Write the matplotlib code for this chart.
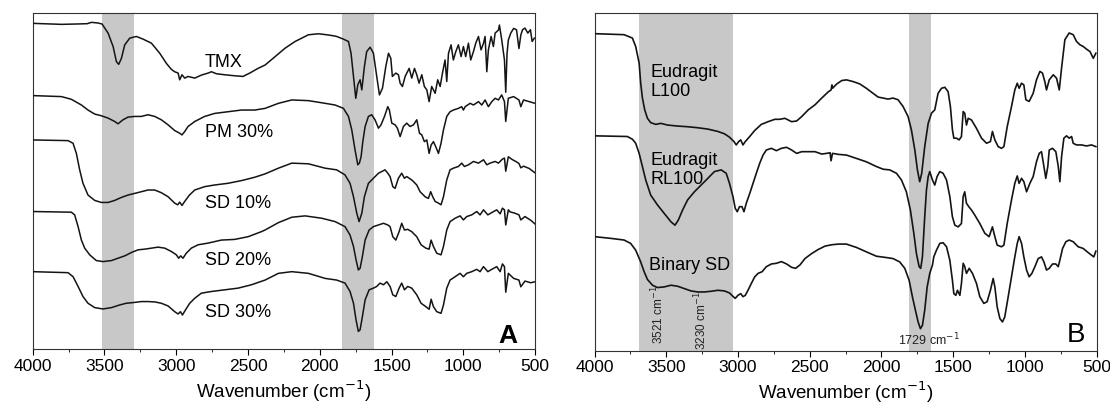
import matplotlib
matplotlib.use("Agg")
import matplotlib.pyplot as plt
from matplotlib.ticker import MultipleLocator

plt.rcParams['font.family'] = ['Liberation Sans', 'DejaVu Sans']

# ----------------------------- panel A data ----------------------------------
TMX_WN = [4000, 3800, 3700, 3620, 3591, 3545, 3517, 3475, 3440, 3417, 3401, 3382,
          3359, 3324, 3278, 3231, 3173, 3115, 3069, 3034, 3011, 2987, 2976, 2960,
          2941, 2918, 2871, 2825, 2778, 2755, 2720, 2662, 2593, 2535, 2488, 2430,
          2381, 2311, 2242, 2172, 2079, 2009, 1951, 1905, 1882, 1835, 1800, 1782,
          1765, 1749, 1735, 1719, 1707, 1689, 1673, 1649, 1626, 1603, 1584, 1563,
          1540, 1521, 1505, 1494, 1470, 1452, 1440, 1424, 1405, 1377, 1359, 1340,
          1324, 1308, 1289, 1271, 1254, 1238, 1220, 1196, 1178, 1161, 1145, 1127,
          1115, 1103, 1085, 1069, 1052, 1034, 1015, 999, 983, 964, 948, 929, 913,
          894, 876, 859, 848, 836, 825, 806, 790, 778, 755, 748, 732, 713, 704, 695,
          686, 669, 649, 629, 612, 599, 587, 570, 550, 532, 520, 505]
TMX_T = [97.0, 96.7, 96.8, 96.9, 97.3, 97.1, 96.8, 94.1, 90.1, 85.6, 84.8, 86.6,
         90.6, 92.6, 93.1, 92.3, 91.1, 88.1, 85.1, 83.3, 82.6, 82.2, 80.2, 81.7,
         80.7, 81.2, 80.7, 81.6, 82.2, 82.6, 82.0, 81.7, 81.4, 81.2, 82.2, 83.6,
         84.6, 87.1, 89.6, 91.6, 93.6, 93.9, 93.6, 93.3, 93.1, 92.3, 91.6, 88.1,
         81.2, 74.7, 78.7, 80.2, 77.2, 84.1, 88.6, 89.9, 88.1, 81.2, 75.7, 77.7,
         84.1, 88.1, 86.6, 81.2, 82.2, 81.7, 79.2, 78.2, 81.2, 83.6, 80.7, 83.6,
         81.7, 79.2, 81.7, 78.2, 77.2, 73.7, 78.2, 76.2, 80.2, 78.2, 82.2, 86.1,
         79.7, 88.1, 90.6, 86.1, 88.6, 90.6, 87.1, 90.1, 87.1, 91.1, 86.1, 88.6, 91.1,
         93.1, 89.1, 91.1, 93.1, 82.6, 89.1, 93.1, 90.1, 94.1, 95.0, 96.5, 92.1,
         86.1, 76.5, 88.0, 92.0, 94.1, 95.5, 95.1, 89.5, 93.5, 95.1, 95.6, 94.1,
         95.1, 91.6, 92.6]

PM30_WN = [4000, 3800, 3731, 3661, 3615, 3568, 3522, 3475, 3429, 3406, 3371, 3336,
           3289, 3243, 3197, 3150, 3104, 3057, 3011, 2976, 2960, 2941, 2918, 2871,
           2802, 2732, 2639, 2546, 2453, 2381, 2288, 2195, 2079, 1963, 1893, 1835,
           1800, 1777, 1754, 1735, 1724, 1712, 1700, 1684, 1661, 1638, 1615, 1591,
           1573, 1549, 1526, 1515, 1498, 1475, 1459, 1440, 1417, 1394, 1371, 1347,
           1324, 1305, 1289, 1271, 1254, 1238, 1224, 1208, 1192, 1173, 1155, 1138,
           1115, 1092, 1069, 1034, 1011, 999, 987, 952, 929, 894, 871, 848, 825, 801,
           778, 755, 732, 713, 704, 686, 649, 612, 599, 580, 540, 500]
PM30_T = [75.5, 75.2, 74.4, 72.7, 71.2, 70.0, 69.5, 68.8, 67.8, 67.1, 68.3, 69.1,
          69.3, 69.3, 69.8, 69.3, 68.3, 66.8, 65.1, 64.3, 63.8, 64.8, 66.3, 67.8,
          69.3, 70.2, 70.7, 71.2, 71.2, 71.7, 73.2, 74.2, 74.0, 73.2, 72.7, 71.7,
          69.3, 65.3, 59.3, 54.9, 55.4, 57.3, 61.8, 66.3, 69.3, 69.8, 68.3, 65.8,
          66.8, 69.3, 72.2, 71.2, 67.3, 66.8, 65.8, 63.3, 66.3, 67.3, 66.3, 66.8,
          68.3, 64.3, 63.8, 61.8, 62.3, 58.3, 60.8, 61.8, 60.3, 58.3, 61.3, 65.3,
          69.3, 70.7, 71.2, 71.7, 72.2, 71.2, 72.2, 73.2, 72.7, 73.7, 72.7, 74.2, 72.2,
          73.7, 74.7, 74.2, 75.7, 73.7, 67.8, 74.7, 75.2, 74.2, 72.2, 74.2, 73.7, 73.2]

SD10_WN = [4000, 3754, 3719, 3696, 3673, 3650, 3615, 3568, 3522, 3475, 3429, 3382,
           3336, 3289, 3243, 3197, 3150, 3104, 3057, 3011, 2990, 2976, 2960, 2941,
           2908, 2871, 2802, 2732, 2639, 2546, 2453, 2381, 2288, 2195, 2079, 1963,
           1882, 1824, 1789, 1765, 1742, 1726, 1707, 1689, 1661, 1626, 1591, 1568,
           1545, 1526, 1510, 1491, 1475, 1452, 1429, 1410, 1394, 1359, 1324, 1301,
           1266, 1243, 1227, 1213, 1196, 1173, 1155, 1138, 1115, 1092, 1069, 1034,
           1011, 992, 964, 929, 894, 859, 836, 813, 778, 755, 727, 713, 704, 686,
           660, 630, 612, 599, 580, 540, 500]
SD10_T = [62.3, 62.1, 61.3, 58.3, 53.4, 49.4, 45.9, 44.3, 43.7, 43.7, 44.3, 45.2,
          45.9, 46.4, 46.9, 47.4, 47.4, 46.6, 45.4, 43.5, 43.0, 43.8, 42.8, 44.0,
          45.9, 47.4, 48.4, 48.9, 49.4, 50.2, 51.2, 52.2, 53.9, 55.4, 55.2, 53.9,
          53.4, 51.9, 49.4, 45.4, 40.5, 38.0, 40.5, 45.4, 49.4, 50.9, 52.4, 52.9,
          53.4, 52.4, 51.4, 48.4, 47.9, 50.9, 52.4, 50.9, 51.4, 50.4, 48.9, 46.9,
          45.4, 44.9, 46.9, 45.4, 44.0, 43.5, 43.0, 45.4, 50.4, 53.4, 53.9, 54.4,
          55.4, 54.4, 54.9, 55.9, 55.4, 56.4, 54.9, 55.4, 55.9, 55.4, 56.6, 56.9,
          53.0, 57.3, 56.5, 55.8, 55.3, 54.0, 54.5, 53.8, 52.5]

SD20_WN = [4000, 3731, 3708, 3684, 3661, 3638, 3603, 3557, 3510, 3452, 3406, 3359,
           3313, 3266, 3220, 3173, 3127, 3080, 3034, 2999, 2983, 2969, 2953, 2930,
           2895, 2848, 2778, 2686, 2593, 2500, 2407, 2381, 2288, 2195, 2102, 1986,
           1893, 1824, 1789, 1765, 1747, 1731, 1719, 1703, 1684, 1656, 1626, 1591,
           1556, 1526, 1510, 1491, 1470, 1447, 1429, 1410, 1387, 1359, 1324, 1294,
           1261, 1238, 1224, 1208, 1185, 1155, 1138, 1115, 1092, 1057, 1022, 999,
           976, 941, 906, 883, 859, 829, 801, 767, 743, 727, 713, 704, 686, 674, 640,
           612, 599, 570, 530, 500]
SD20_T = [41.0, 40.8, 40.0, 36.5, 32.5, 30.1, 28.1, 26.4, 26.1, 26.4, 27.1, 27.8,
          28.8, 29.6, 29.8, 30.1, 30.4, 30.1, 29.1, 28.1, 27.1, 27.8, 27.1, 28.6,
          30.1, 31.1, 31.6, 32.5, 32.7, 33.5, 35.0, 35.5, 37.7, 39.3, 39.7, 39.0,
          38.0, 36.5, 34.0, 30.6, 26.6, 23.6, 24.1, 27.6, 32.5, 35.5, 36.5, 37.0,
          37.5, 37.0, 36.5, 33.5, 32.5, 35.0, 37.5, 35.5, 35.7, 35.0, 33.5, 31.1,
          30.1, 29.8, 32.5, 30.6, 28.6, 28.1, 30.6, 35.5, 38.0, 39.0, 39.7, 38.5,
          39.5, 40.0, 41.0, 40.0, 41.5, 40.0, 40.7, 41.5, 40.3, 42.0, 41.5, 37.0,
          41.5, 40.9, 40.5, 40.0, 38.5, 39.5, 38.4, 37.3]

SD30_WN = [4000, 3754, 3719, 3684, 3650, 3615, 3568, 3510, 3452, 3394, 3348, 3301,
           3243, 3197, 3150, 3104, 3057, 3011, 2987, 2971, 2957, 2936, 2906, 2871,
           2825, 2755, 2662, 2569, 2476, 2381, 2288, 2195, 2079, 1963, 1882, 1824,
           1789, 1765, 1747, 1731, 1719, 1703, 1684, 1656, 1626, 1603, 1580, 1556,
           1533, 1510, 1491, 1470, 1447, 1429, 1410, 1387, 1359, 1324, 1294, 1261,
           1238, 1224, 1208, 1185, 1155, 1138, 1115, 1092, 1057, 1022, 999, 976, 941,
           906, 883, 859, 829, 801, 767, 743, 727, 713, 704, 686, 649, 612, 599, 570,
           530, 500]
SD30_T = [23.1, 22.8, 21.6, 18.7, 15.7, 13.7, 12.4, 12.0, 12.4, 13.2, 13.7, 13.9,
          14.2, 14.2, 14.1, 13.7, 12.9, 11.2, 10.5, 11.2, 10.2, 11.7, 13.7, 15.2,
          16.7, 17.2, 17.7, 18.2, 19.2, 20.6, 22.6, 23.1, 22.6, 21.1, 20.6, 19.7,
          17.2, 13.7, 8.7, 5.3, 5.8, 9.7, 14.7, 17.7, 18.2, 18.7, 19.7, 19.2,
          20.1, 18.7, 16.2, 15.7, 18.2, 19.7, 17.7, 18.7, 18.2, 16.2, 13.7, 12.7,
          11.9, 14.9, 12.7, 11.2, 10.7, 13.2, 18.2, 20.6, 21.6, 22.6, 21.6, 22.6, 23.1,
          23.8, 23.1, 24.6, 23.1, 23.8, 24.6, 23.1, 25.4, 24.6, 17.0, 22.6, 21.1,
          20.6, 18.6, 20.3, 19.8, 20.1]

A_LABELS = ["TMX", "PM 30%", "SD 10%", "SD 20%", "SD 30%"]
A_LABEL_Y = [85.2, 64.4, 43.4, 26.4, 10.9]
A_BANDS = [(3296, 3518), (1620, 1845)]

# ----------------------------- panel B data ----------------------------------
L100_WN = [4000, 3794, 3736, 3713, 3689, 3678, 3666, 3650, 3631, 3608, 3573, 3537,
           3491, 3421, 3351, 3280, 3210, 3140, 3094, 3059, 3028, 3012, 2995, 2981,
           2965, 2949, 2918, 2883, 2837, 2790, 2743, 2708, 2673, 2626, 2591, 2556,
           2510, 2463, 2416, 2369, 2351, 2345, 2341, 2311, 2276, 2244, 2198, 2151,
           2105, 2058, 2023, 1988, 1954, 1919, 1884, 1849, 1814, 1791, 1767, 1749,
           1733, 1719, 1698, 1674, 1651, 1628, 1605, 1581, 1558, 1535, 1519, 1505,
           1495, 1477, 1458, 1442, 1430, 1419, 1407, 1395, 1372, 1337, 1302, 1267,
           1240, 1226, 1209, 1186, 1163, 1146, 1123, 1093, 1070, 1053, 1040, 1023,
           1007, 993, 970, 942, 919, 895, 877, 861, 849, 830, 802, 779, 760, 744, 721,
           691, 663, 640, 616, 593, 570, 546, 523, 505]
L100_T = [94.0, 93.7, 92.7, 90.2, 85.3, 79.3, 74.9, 71.4, 68.9, 67.6, 67.1, 67.4,
          66.9, 66.6, 66.4, 66.1, 65.7, 65.0, 64.3, 63.3, 62.0, 61.0, 62.0, 62.5,
          61.0, 62.0, 63.5, 65.3, 67.1, 67.9, 68.6, 68.6, 68.9, 67.9, 68.1, 69.4,
          71.4, 72.9, 74.9, 76.8, 77.3, 78.8, 77.8, 79.1, 80.1, 80.3, 79.8, 79.1,
          77.8, 76.3, 75.2, 74.9, 74.6, 74.9, 74.4, 72.4, 69.4, 65.5, 59.5, 53.6,
          50.1, 52.6, 60.5, 67.4, 70.4, 71.4, 76.3, 77.8, 78.1, 76.8, 72.4, 65.5,
          63.0, 63.0, 62.5, 63.5, 70.9, 70.4, 66.9, 68.9, 68.4, 65.9, 63.0, 61.5,
          62.0, 65.0, 62.5, 60.5, 60.0, 60.5, 66.4, 72.4, 77.3, 79.3, 77.8, 79.3,
          78.8, 74.4, 73.9, 76.3, 80.3, 82.8, 82.3, 79.8, 77.3, 80.3, 81.8, 80.8,
          77.3, 83.8, 92.2, 94.2, 93.7, 91.7, 90.7, 90.2, 89.4, 88.7, 86.7, 88.2]

RL100_WN = [4000, 3771, 3736, 3713, 3689, 3666, 3643, 3608, 3561, 3514, 3467, 3439,
            3416, 3386, 3351, 3304, 3257, 3210, 3164, 3117, 3082, 3059, 3035, 3019,
            3005, 2989, 2972, 2958, 2942, 2918, 2895, 2872, 2848, 2825, 2802, 2767,
            2732, 2697, 2661, 2626, 2591, 2556, 2510, 2463, 2416, 2381, 2358, 2351,
            2341, 2299, 2244, 2174, 2105, 2035, 1988, 1942, 1895, 1860, 1826, 1798,
            1774, 1756, 1737, 1726, 1714, 1698, 1686, 1674, 1663, 1644, 1628, 1612,
            1593, 1570, 1546, 1523, 1505, 1488, 1465, 1442, 1430, 1419, 1407, 1391,
            1372, 1349, 1314, 1279, 1249, 1226, 1209, 1193, 1163, 1146, 1123, 1093,
            1070, 1053, 1040, 1023, 1007, 988, 965, 942, 919, 900, 884, 867, 854, 840,
            830, 807, 784, 767, 756, 744, 728, 709, 691, 674, 663, 640, 605, 570, 535,
            505]
RL100_T = [63.7, 63.5, 62.7, 61.5, 58.5, 54.6, 50.6, 46.1, 43.2, 40.7, 38.2, 37.2,
           38.7, 41.7, 44.7, 47.1, 49.1, 51.1, 53.1, 53.6, 52.6, 49.6, 45.7, 42.2,
           41.2, 42.7, 42.7, 41.2, 43.7, 46.6, 49.6, 52.6, 55.6, 58.0, 59.5, 60.0,
           59.3, 60.0, 60.3, 59.5, 58.5, 59.0, 59.0, 59.0, 58.3, 58.5, 58.7, 56.3,
           58.5, 58.2, 58.0, 57.0, 56.0, 54.6, 53.8, 53.6, 52.6, 50.6, 47.1, 41.7,
           34.8, 28.8, 24.9, 24.4, 27.8, 39.7, 47.6, 51.6, 53.1, 50.6, 49.1, 51.6,
           53.1, 52.6, 50.6, 45.7, 39.7, 37.2, 36.7, 37.7, 45.7, 47.1, 43.7, 42.7,
           41.7, 40.2, 37.7, 34.8, 33.8, 36.7, 33.8, 31.3, 30.8, 31.3, 37.7, 44.7,
           49.6, 51.8, 49.6, 51.1, 50.1, 47.1, 49.6, 51.6, 56.0, 58.5, 59.0, 54.6,
           51.1, 54.6, 59.5, 60.0, 59.0, 54.6, 50.1, 57.5, 63.0, 63.7, 63.0, 63.5,
           61.5, 61.0, 61.0, 60.7, 61.0, 60.5]

BIN_WN = [4000, 3888, 3794, 3748, 3713, 3678, 3654, 3631, 3596, 3561, 3514, 3467,
          3421, 3374, 3327, 3280, 3234, 3187, 3140, 3094, 3059, 3035, 3019, 3000,
          2981, 2965, 2949, 2930, 2907, 2883, 2860, 2832, 2802, 2767, 2732, 2697,
          2661, 2626, 2598, 2568, 2533, 2486, 2440, 2393, 2346, 2299, 2244, 2174,
          2105, 2035, 1965, 1919, 1872, 1837, 1807, 1784, 1763, 1744, 1728, 1714,
          1698, 1681, 1663, 1644, 1635, 1616, 1593, 1570, 1546, 1523, 1505, 1495,
          1481, 1470, 1453, 1442, 1430, 1419, 1407, 1388, 1365, 1337, 1314, 1286,
          1263, 1240, 1221, 1209, 1193, 1174, 1156, 1140, 1116, 1093, 1070, 1053,
          1040, 1023, 1007, 988, 970, 951, 930, 907, 884, 867, 849, 830, 807, 784,
          767, 756, 737, 714, 691, 663, 628, 593, 565, 535, 519, 505]
BIN_T = [33.8, 33.3, 32.8, 31.8, 29.8, 26.3, 23.4, 21.1, 19.4, 18.7, 18.9, 19.4,
         19.1, 18.4, 17.7, 17.4, 17.4, 17.6, 17.9, 17.7, 17.1, 16.1, 15.5, 16.4,
         16.9, 16.0, 16.4, 17.9, 19.9, 21.9, 22.9, 23.4, 24.9, 25.7, 25.9, 26.4,
         25.7, 24.7, 24.4, 25.4, 27.3, 28.8, 30.0, 31.0, 31.4, 31.6, 31.6, 30.6,
         29.3, 28.0, 27.6, 27.3, 26.3, 24.4, 20.9, 16.0, 12.0, 8.5, 6.5, 7.5,
         12.0, 18.9, 22.9, 25.4, 27.8, 29.8, 31.8, 32.0, 30.8, 26.8, 20.9, 16.9,
         16.4, 17.9, 16.4, 19.9, 25.9, 24.9, 22.9, 24.4, 22.9, 19.9, 16.0, 14.0,
         14.5, 17.9, 21.4, 18.9, 13.0, 9.5, 8.5, 10.0, 16.0, 21.9, 27.8, 31.8,
         33.8, 31.8, 27.8, 23.9, 21.9, 22.9, 24.9, 27.3, 27.8, 26.3, 23.9, 24.4,
         25.7, 25.7, 24.9, 26.8, 30.3, 32.3, 32.8, 32.3, 30.8, 30.3, 29.3, 28.3,
         27.8, 29.5]

B_LABELS = ["Eudragit\nL100", "Eudragit\nRL100", "Binary SD"]
B_LABEL_Y = [79.6, 53.6, 25.1]
B_BANDS = [(3037, 3688), (1655, 1810)]
B_PEAKS = [3521, 3230, 1729]

BAND_GREY = "#c8c8c8"
INK = "#141414"


def style_axis(ax):
    ax.set_xlim(4000, 500)
    ax.set_ylim(0, 100)
    ax.set_yticks([])
    ax.xaxis.set_major_locator(MultipleLocator(500))
    ax.xaxis.set_minor_locator(MultipleLocator(250))
    ax.tick_params(axis="x", which="major", direction="out", length=4, width=0.8,
                   labelsize=12.5, pad=3)
    ax.tick_params(axis="x", which="minor", direction="out", length=2.5, width=0.6)
    for s in ax.spines.values():
        s.set_linewidth(0.8)
        s.set_color("#333333")
    ax.set_xlabel("Wavenumber (cm$^{-1}$)", fontsize=13.5, labelpad=3)


fig = plt.figure(figsize=(11.1, 4.07), dpi=100)
axA = fig.add_axes([0.0295, 0.1418, 0.4525, 0.8256])
axB = fig.add_axes([0.5356, 0.1385, 0.4523, 0.8285])

# ---- panel A
for lo, hi in A_BANDS:
    axA.axvspan(lo, hi, color=BAND_GREY, lw=0, zorder=0)
for wn, t in [(TMX_WN, TMX_T), (PM30_WN, PM30_T), (SD10_WN, SD10_T),
              (SD20_WN, SD20_T), (SD30_WN, SD30_T)]:
    axA.plot(wn, t, color=INK, lw=1.1, zorder=3)
for lab, y in zip(A_LABELS, A_LABEL_Y):
    axA.text(2800, y, lab, fontsize=13, ha="left", va="center", zorder=4)
axA.text(0.964, 0.018, "A", transform=axA.transAxes, fontsize=19,
         fontweight="bold", ha="right", va="baseline")
style_axis(axA)

# ---- panel B
for lo, hi in B_BANDS:
    axB.axvspan(lo, hi, color=BAND_GREY, lw=0, zorder=0)
for wn, t in [(L100_WN, L100_T), (RL100_WN, RL100_T), (BIN_WN, BIN_T)]:
    axB.plot(wn, t, color=INK, lw=1.2, zorder=3)
for lab, y, x in zip(B_LABELS, B_LABEL_Y, [3608, 3608, 3619]):
    axB.text(x, y, lab, fontsize=13, ha="left", va="center", linespacing=1.15,
             zorder=4)
axB.text(3557, 2.0, f"{B_PEAKS[0]} cm$^{{-1}}$", rotation=90, fontsize=8.5,
         ha="center", va="bottom", color="#222222", zorder=4)
axB.text(3257, 0.3, f"{B_PEAKS[1]} cm$^{{-1}}$", rotation=90, fontsize=8.5,
         ha="center", va="bottom", color="#222222", zorder=4)
axB.text(1668, 0.8, f"{B_PEAKS[2]} cm$^{{-1}}$", fontsize=9, ha="center",
         va="bottom", color="#222222", zorder=4)
axB.text(0.977, 0.025, "B", transform=axB.transAxes, fontsize=20,
         ha="right", va="baseline")
style_axis(axB)

fig.savefig("out.png", dpi=100, facecolor="white")
